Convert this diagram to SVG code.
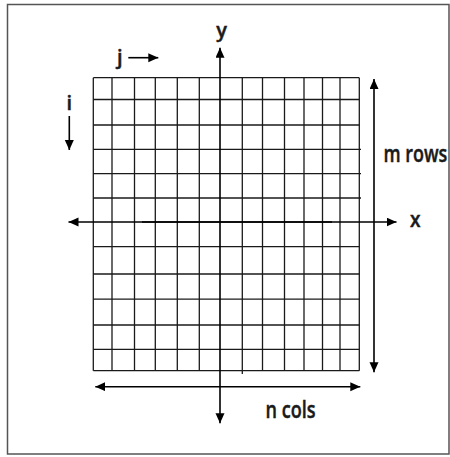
<svg xmlns="http://www.w3.org/2000/svg" width="450" height="457" viewBox="0 0 450 457">
<style>
.frame{fill:#fff;stroke:#555;stroke-width:1.5}
.grid line{stroke:#1a1a1a;stroke-width:1.3}
.ax{stroke:#000;stroke-width:1.6;fill:none}
.lbl{font-family:"Open Sans","Liberation Sans",sans-serif;fill:#1a1a1a;stroke:#1a1a1a;stroke-width:0.45;font-weight:600}
</style>
<defs>
<marker id="ah" markerUnits="userSpaceOnUse" markerWidth="11" markerHeight="10" refX="10" refY="4.5" orient="auto-start-reverse" viewBox="0 0 11 10">
<path d="M0,0 L10,4.5 L0,9 z" fill="#000"/>
</marker>
</defs>
<rect class="frame" x="7.5" y="4.5" width="441.5" height="449.5"/>
<g id="grid" class="grid">
<line x1="93.3" y1="77.7" x2="93.3" y2="370.7"/>
<line x1="112" y1="77.7" x2="112" y2="370.7"/>
<line x1="134.5" y1="77.7" x2="134.5" y2="370.7"/>
<line x1="155.3" y1="77.7" x2="155.3" y2="370.7"/>
<line x1="177.3" y1="77.7" x2="177.3" y2="370.7"/>
<line x1="199.3" y1="77.7" x2="199.3" y2="370.7"/>
<line x1="242.3" y1="77.7" x2="242.3" y2="374"/>
<line x1="262.5" y1="77.7" x2="262.5" y2="370.7"/>
<line x1="284.5" y1="77.7" x2="284.5" y2="370.7"/>
<line x1="304" y1="77.7" x2="304" y2="370.7"/>
<line x1="322.5" y1="77.7" x2="322.5" y2="370.7"/>
<line x1="340" y1="77.7" x2="340" y2="370.7"/>
<line x1="359.3" y1="77.7" x2="359.3" y2="370.7"/>
<line x1="93.3" y1="77.7" x2="359.3" y2="77.7"/>
<line x1="93.3" y1="99.5" x2="359.3" y2="99.5"/>
<line x1="93.3" y1="125" x2="359.3" y2="125"/>
<line x1="93.3" y1="149.3" x2="361" y2="149.3"/>
<line x1="93.3" y1="173.7" x2="361" y2="173.7"/>
<line x1="93.3" y1="198" x2="361" y2="198"/>
<line x1="93.3" y1="246.7" x2="359.3" y2="246.7"/>
<line x1="93.3" y1="274" x2="359.3" y2="274"/>
<line x1="93.3" y1="299.2" x2="359.3" y2="299.2"/>
<line x1="93.3" y1="325" x2="359.3" y2="325"/>
<line x1="93.3" y1="349.3" x2="359.3" y2="349.3"/>
<line x1="93.3" y1="370.7" x2="359.3" y2="370.7"/>
</g>
<g id="connectors">
<line id="x-axis" class="ax" x1="68.5" y1="222" x2="396.5" y2="222" marker-start="url(#ah)" marker-end="url(#ah)"/>
<line class="ax" x1="142" y1="222" x2="332" y2="222" stroke-width="2.6"/>
<line id="y-axis" class="ax" x1="220" y1="47.7" x2="220" y2="423.3" marker-start="url(#ah)" marker-end="url(#ah)"/>
<line id="m-rows-arrow" class="ax" x1="374" y1="79" x2="374" y2="372.3" marker-start="url(#ah)" marker-end="url(#ah)"/>
<line id="n-cols-arrow" class="ax" x1="95.3" y1="386.7" x2="360.3" y2="386.7" marker-start="url(#ah)" marker-end="url(#ah)"/>
<line id="j-arrow" class="ax" x1="128.3" y1="57.7" x2="158.3" y2="57.7" marker-end="url(#ah)"/>
<line id="i-arrow" class="ax" x1="69.3" y1="116" x2="69.3" y2="150" marker-end="url(#ah)"/>
</g>
<g id="labels">
<text class="lbl" x="221.5" y="37" font-size="20" text-anchor="middle">y</text>
<text class="lbl" x="117" y="63.5" font-size="20">j</text>
<text class="lbl" x="69.3" y="110" font-size="20" text-anchor="middle">i</text>
<text class="lbl" x="410" y="227" font-size="22" textLength="10.5" lengthAdjust="spacingAndGlyphs">x</text>
<text class="lbl" transform="translate(383.5 162) scale(0.78 1)" font-size="23">m rows</text>
<text class="lbl" x="265.5" y="418.3" font-size="24" textLength="50" lengthAdjust="spacingAndGlyphs">n cols</text>
</g>
</svg>
